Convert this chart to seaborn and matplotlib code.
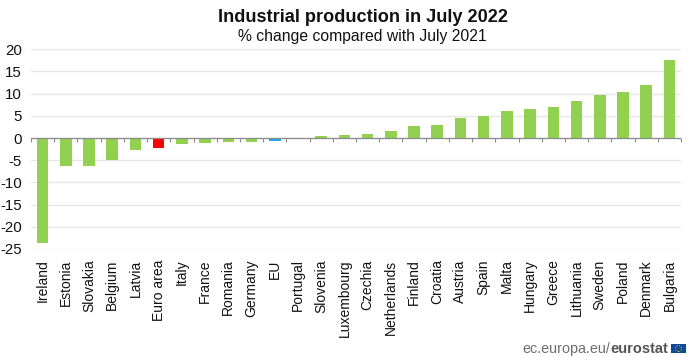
import matplotlib
matplotlib.use("Agg")
import matplotlib.pyplot as plt
import seaborn as sns
import pandas as pd
from matplotlib.patches import Rectangle, Ellipse

countries = ["Ireland", "Estonia", "Slovakia", "Belgium", "Latvia", "Euro area", "Italy",
             "France", "Romania", "Germany", "EU", "Portugal", "Slovenia", "Luxembourg",
             "Czechia", "Netherlands", "Finland", "Croatia", "Austria", "Spain", "Malta",
             "Hungary", "Greece", "Lithuania", "Sweden", "Poland", "Denmark", "Bulgaria"]
values = [-23.6, -6.3, -6.3, -5.0, -2.8, -2.3, -1.3, -1.1, -1.0, -0.9, -0.6, 0.0, 0.4, 0.7,
          0.9, 1.5, 2.7, 2.9, 4.6, 4.9, 6.1, 6.6, 7.1, 8.3, 9.8, 10.3, 12.0, 17.5]
y_ticks = [20, 15, 10, 5, 0, -5, -10, -15, -20, -25]

GREEN, RED, BLUE = "#92d050", "#ff0000", "#1fa8e8"
colors = [RED if c == "Euro area" else BLUE if c == "EU" else GREEN for c in countries]

sns.set_theme(style="white")
plt.rcParams["font.family"] = ["Liberation Sans", "DejaVu Sans"]

W, H = 700, 357
fig = plt.figure(figsize=(W / 100, H / 100), dpi=100)
ax = fig.add_axes([31 / W, 1 - 249 / H, 650 / W, (249 - 49.3) / H])

df = pd.DataFrame({"country": countries, "value": values})
sns.barplot(data=df, x="country", y="value", hue="country", palette=colors, legend=False,
            width=0.5, saturation=1, linewidth=0, edgecolor="none", ax=ax, zorder=3)

ax.set_xlim(-0.5, len(countries) - 0.5)
ax.set_ylim(-25, 20)
ax.set_xlabel("")
ax.set_ylabel("")
ax.set_yticks(y_ticks)
ax.set_yticklabels([str(v) for v in y_ticks], fontsize=10.8, color="#111111")
ax.tick_params(axis="y", length=0, pad=6.5)
ax.yaxis.grid(True, color="#e6e6e6", lw=1)
ax.set_axisbelow(True)
for s in ax.spines.values():
    s.set_visible(False)

ax.set_xticks(range(len(countries)))
ax.set_xticklabels(countries, rotation=90, fontsize=10, color="#111111")
ax.tick_params(axis="x", which="major", length=0, pad=7.5)

ax.axhline(0, color="#8c8c8c", lw=0.9, zorder=3.5)
ax.vlines([i - 0.5 for i in range(len(countries) + 1)], -0.8, 0, color="#8c8c8c", lw=0.8,
          zorder=3.5, clip_on=False)

fig.text(363 / W, 1 - 18 / H, "Industrial production in July 2022", ha="center", va="center",
         fontsize=13.1, fontweight="bold", color="#111111")
fig.text(362 / W, 1 - 36 / H, "% change compared with July 2021", ha="center", va="center",
         fontsize=11.3, color="#111111")

fig.text(522 / W, 1 - 353 / H, "ec.europa.eu/", ha="left", va="baseline",
         fontsize=10.4, color="#6e6e6e")
fig.text(610 / W, 1 - 353 / H, "eurostat", ha="left", va="baseline",
         fontsize=10.5, fontweight="bold", color="#555555")
fig.add_artist(Rectangle((671 / W, 1 - 353.3 / H), 15 / W, 9.5 / H, transform=fig.transFigure,
                         facecolor="#114a94", edgecolor="none"))
fig.add_artist(Ellipse((678.5 / W, 1 - 348.5 / H), 6 / W, 6 / H, transform=fig.transFigure,
                       facecolor="none", edgecolor="#d8c94a", lw=0.7, ls=":"))

fig.savefig("out.png", dpi=100, facecolor="white")
